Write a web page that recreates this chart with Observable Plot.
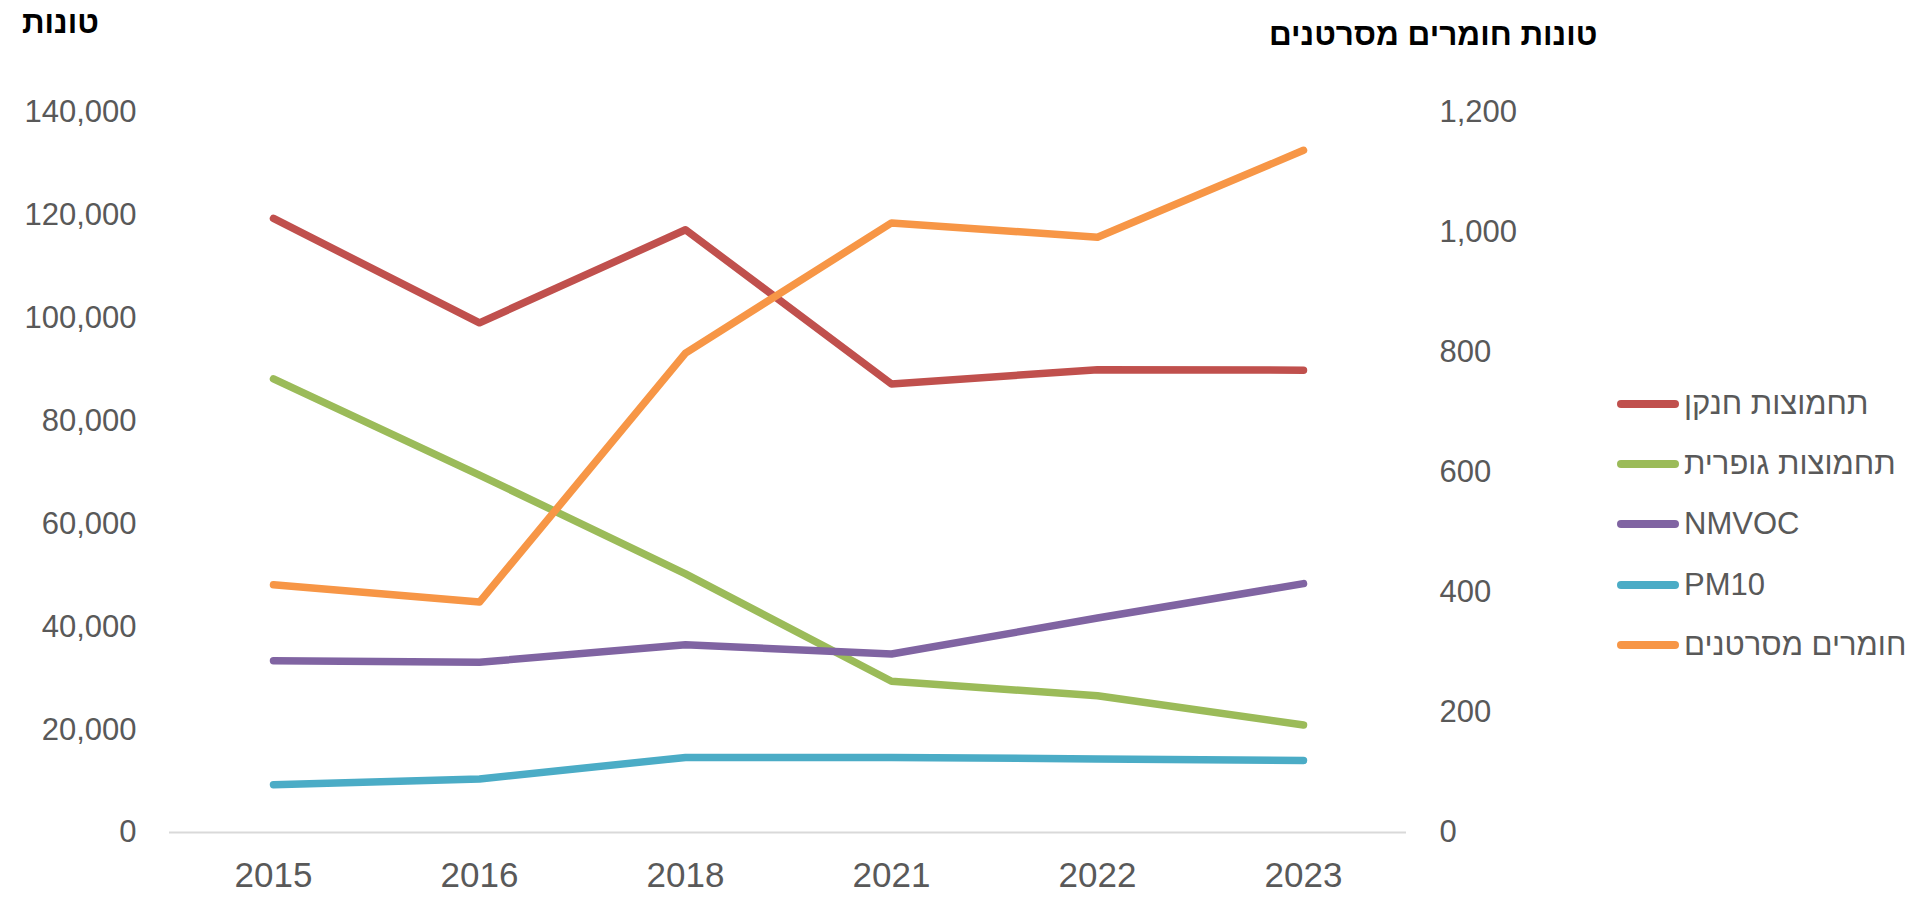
<!DOCTYPE html>
<html>
<head>
<meta charset="utf-8">
<script src="https://cdn.jsdelivr.net/npm/d3@7"></script>
<script src="https://cdn.jsdelivr.net/npm/@observablehq/plot@0.6"></script>
<style>
  html, body { margin: 0; padding: 0; background: #fff; }
  #wrap { position: relative; width: 1932px; height: 898px; overflow: hidden; font-family: "Liberation Sans", Arial, sans-serif; }
  .title { position: absolute; font-weight: bold; color: #000; font-size: 31.5px; direction: rtl; white-space: nowrap; line-height: 1; }
  #legend { position: absolute; left: 1617px; top: 374px; }
  .item { display: flex; align-items: center; height: 60.2px; }
  .swatch { width: 62px; height: 8px; border-radius: 4px; }
  .lab { font-size: 31px; color: #595959; white-space: nowrap; margin-left: 5px; unicode-bidi: plaintext; }
</style>
</head>
<body>
<div id="wrap"></div>
<script>
// ---- data ----
const years = ["2015", "2016", "2018", "2021", "2022", "2023"];
const seriesNames = ["תחמוצות חנקן", "תחמוצות גופרית", "NMVOC", "PM10", "חומרים מסרטנים"];
const seriesColors = ["#C0504D", "#9BBB59", "#8064A2", "#4BACC6", "#F79646"];
const noxValues = [119400, 99100, 117200, 87200, 90000, 89900];
const soxValues = [88200, 69500, 50300, 29400, 26600, 20900];
const nmvocValues = [33400, 33100, 36500, 34700, 41700, 48400];
const pm10Values = [9300, 10400, 14600, 14600, 14300, 14000];
const carcinogenValues = [413, 384, 799, 1016, 992, 1137];
const leftTicks = [0, 20000, 40000, 60000, 80000, 100000, 120000, 140000];
const rightTicks = [0, 200, 400, 600, 800, 1000, 1200];
const leftTitle = "טונות";
const rightTitle = "טונות חומרים מסרטנים";

// ---- build table ----
const leftMax = 140000, rightMax = 1200;
const ratio = leftMax / rightMax;
const primary = [noxValues, soxValues, nmvocValues, pm10Values];
const rows = [];
primary.forEach((vals, s) => vals.forEach((v, i) => rows.push({series: seriesNames[s], year: years[i], y: v})));
carcinogenValues.forEach((v, i) => rows.push({series: seriesNames[4], year: years[i], y: v * ratio}));

const fmt = d3.format(",");
const chart = Plot.plot({
  width: 1932,
  height: 898,
  marginLeft: 169,
  marginRight: 526,
  marginTop: 112,
  marginBottom: 66,
  style: {fontFamily: '"Liberation Sans", Arial, sans-serif', fontSize: "31px", color: "#595959", background: "transparent"},
  x: {type: "point", domain: years, padding: 0.5, axis: null},
  y: {domain: [0, leftMax], axis: null},
  color: {domain: seriesNames, range: seriesColors},
  marks: [
    Plot.axisX({tickSize: 0, tickPadding: 30, label: null, fill: "#595959", fontSize: 35}),
    Plot.axisY({ticks: leftTicks, tickSize: 0, tickPadding: 33, tickFormat: fmt, label: null, fill: "#595959"}),
    Plot.axisY({anchor: "right", ticks: rightTicks.map(v => v * ratio), tickSize: 0, tickPadding: 33,
      tickFormat: d => fmt(Math.round(d / ratio)), label: null, fill: "#595959"}),
    Plot.ruleY([0], {stroke: "#D9D9D9", strokeWidth: 2}),
    ...seriesNames.map(name => Plot.line(rows.filter(r => r.series === name), {
      x: "year", y: "y", stroke: "series", strokeWidth: 7.5, strokeLinecap: "round", strokeLinejoin: "round"
    }))
  ]
});
const wrap = document.getElementById("wrap");
wrap.appendChild(chart);

// titles
const t1 = document.createElement("div");
t1.className = "title"; t1.textContent = leftTitle;
t1.style.left = "22px"; t1.style.top = "7px";
wrap.appendChild(t1);
const t2 = document.createElement("div");
t2.className = "title"; t2.textContent = rightTitle;
t2.style.left = "1269px"; t2.style.top = "19px";
wrap.appendChild(t2);

// legend
const legend = document.createElement("div");
legend.id = "legend";
seriesNames.forEach((name, i) => {
  const item = document.createElement("div"); item.className = "item";
  const sw = document.createElement("div"); sw.className = "swatch"; sw.style.background = seriesColors[i];
  const lab = document.createElement("span"); lab.className = "lab"; lab.textContent = name;
  item.appendChild(sw); item.appendChild(lab); legend.appendChild(item);
});
wrap.appendChild(legend);
</script>
</body>
</html>
